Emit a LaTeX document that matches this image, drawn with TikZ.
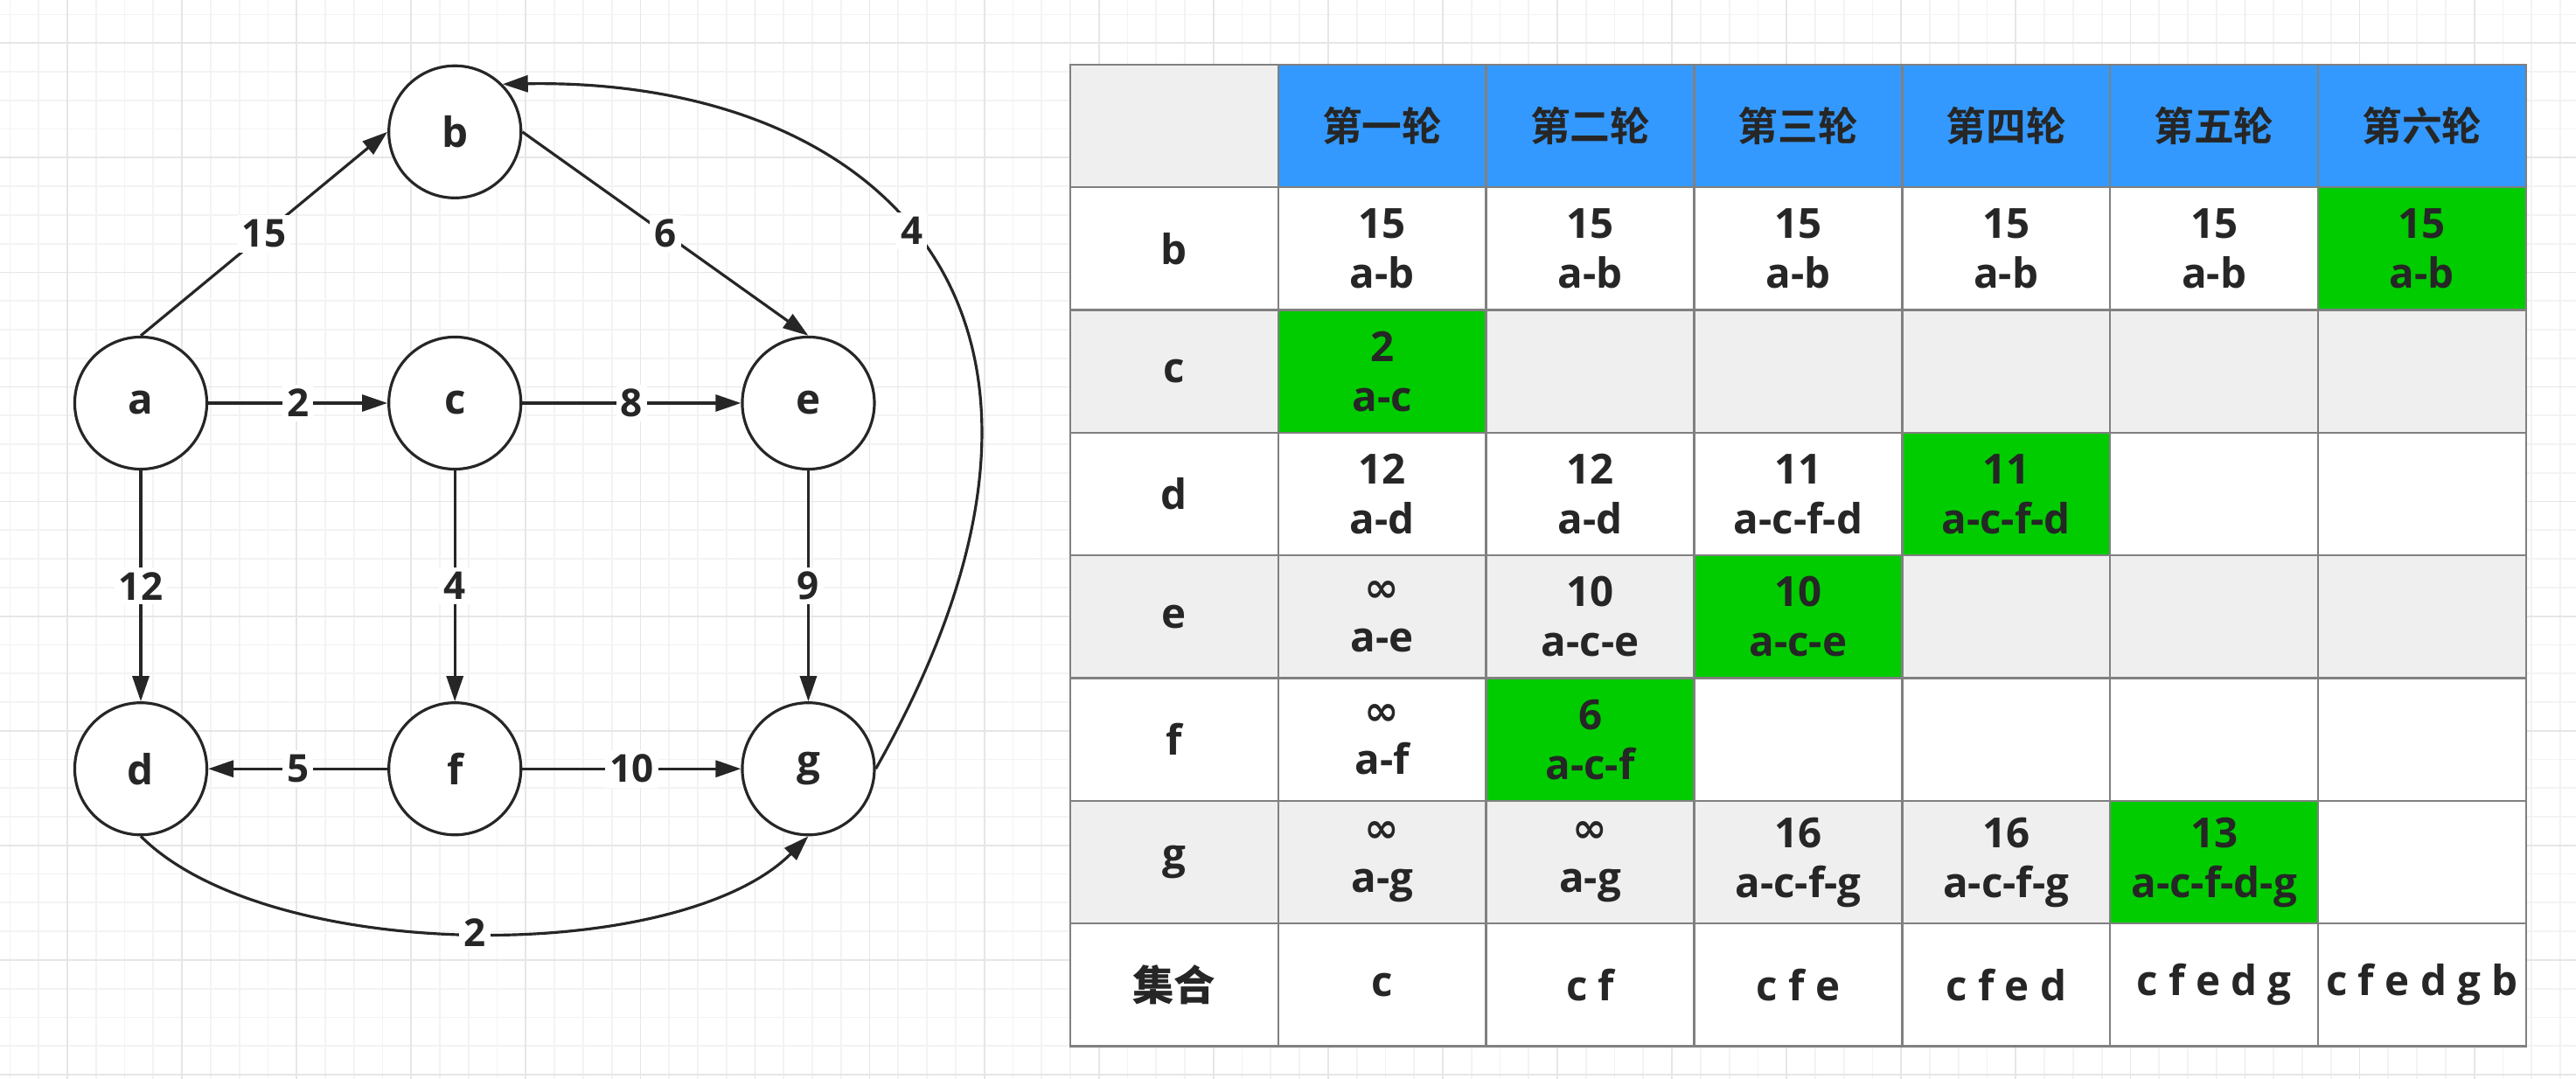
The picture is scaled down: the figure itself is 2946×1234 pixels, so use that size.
\documentclass[tikz,border=0pt]{standalone}
\usepackage{fontspec}
\setmainfont{Open Sans}
\newfontfamily\cjk{Noto Sans CJK SC Bold}
\newfontfamily\symf{DejaVu Sans}
\usetikzlibrary{arrows.meta}
\definecolor{ink}{HTML}{262626}
\definecolor{headblue}{HTML}{3399FF}
\definecolor{hitgreen}{HTML}{00CC00}
\definecolor{rowgray}{HTML}{EFEFEF}
\definecolor{cellline}{HTML}{808080}
\definecolor{gridminor}{HTML}{F3F3F3}
\definecolor{gridmajor}{HTML}{E6E6E6}
\tikzstyle{vertex} = [circle, draw=ink, line width=0.9pt, fill=white, minimum size=1.51cm, inner sep=0pt, text=ink, font=\bfseries\fontsize{13.5}{16}\selectfont]
\tikzstyle{weight} = [fill=white, inner sep=1.5pt, text=ink, font=\bfseries\fontsize{12.5}{14}\selectfont]
\tikzstyle{link} = [->, draw=ink, line width=0.9pt]
\tikzstyle{cell} = [rectangle, draw=cellline, line width=0.7pt, fill=white, minimum width=2.377cm, minimum height=1.4025cm, inner sep=0pt, align=center, text=ink, font=\bfseries\fontsize{13.5}{16.2}\selectfont]
\tikzstyle{headcell} = [fill=headblue, font=\cjk\fontsize{13}{16}\selectfont]
\tikzstyle{graycell} = [fill=rowgray]
\tikzstyle{greencell} = [fill=hitgreen]
\begin{document}
\begin{tikzpicture}[x=0.01cm, y=0.01cm, node distance=2.377cm, >={Triangle[length=2.9mm,width=1.9mm]}]
   % paper with grid
   \useasboundingbox (0,0) rectangle (2946,1234);
   \fill[white] (0,0) rectangle (2946,1234);
   \draw[gridminor, line width=0.5pt, step=0.3275cm, shift={(11.5,5)}] (-11.5,-5) grid (2934.5,1229);
   \draw[gridmajor, line width=0.5pt, step=1.31cm, shift={(77,5)}] (-77,-5) grid (2869,1229);

   % graph
   \node[vertex] (a) at (161,773) {a};
   \node[vertex, node distance=3.59cm] (c) [right of=a] {c};
   \node[vertex, node distance=4.04cm] (e) [right of=c] {e};
   \node[vertex, node distance=3.10cm] (b) [above of=c] {b};
   \node[vertex, node distance=4.18cm] (d) [below of=a] {d};
   \node[vertex, node distance=3.59cm] (f) [right of=d] {f};
   \node[vertex, node distance=4.04cm] (g) [right of=f] {g};
   \draw[link] (a.north) -- node[weight] {15} (b.west);
   \draw[link] (b.east) -- node[weight] {6} (e.north);
   \draw[link] (a) -- node[weight] {2} (c);
   \draw[link] (c) -- node[weight] {8} (e);
   \draw[link] (a) -- node[weight] {12} (d);
   \draw[link] (c) -- node[weight] {4} (f);
   \draw[link] (e) -- node[weight] {9} (g);
   \draw[link] (f) -- node[weight] {5} (d);
   \draw[link] (f) -- node[weight] {10} (g);
   \draw[link] (d.south) to[out=-45, in=-135, looseness=0.7] node[weight] {2} (g.south);
   \draw[link] (g.east) .. controls (1301,883) and (1000,1145) .. node[weight, pos=0.53] {4} (b.north east);

   % table
   \node[cell, graycell] (h0) at (1342.9,1089.9) {};
   \node[cell, headcell] (h1) [right of=h0] {第一轮};
   \node[cell, headcell] (h2) [right of=h1] {第二轮};
   \node[cell, headcell] (h3) [right of=h2] {第三轮};
   \node[cell, headcell] (h4) [right of=h3] {第四轮};
   \node[cell, headcell] (h5) [right of=h4] {第五轮};
   \node[cell, headcell] (h6) [right of=h5] {第六轮};

   \node[cell, node distance=1.4025cm] (b0) [below of=h0] {b};
   \node[cell] (b1) [right of=b0] {15\\a-b};
   \node[cell] (b2) [right of=b1] {15\\a-b};
   \node[cell] (b3) [right of=b2] {15\\a-b};
   \node[cell] (b4) [right of=b3] {15\\a-b};
   \node[cell] (b5) [right of=b4] {15\\a-b};
   \node[cell, greencell] (b6) [right of=b5] {15\\a-b};

   \node[cell, graycell, node distance=1.4025cm] (c0) [below of=b0] {c};
   \node[cell, greencell] (c1) [right of=c0] {2\\a-c};
   \node[cell, graycell] (c2) [right of=c1] {};
   \node[cell, graycell] (c3) [right of=c2] {};
   \node[cell, graycell] (c4) [right of=c3] {};
   \node[cell, graycell] (c5) [right of=c4] {};
   \node[cell, graycell] (c6) [right of=c5] {};

   \node[cell, node distance=1.4025cm] (d0) [below of=c0] {d};
   \node[cell] (d1) [right of=d0] {12\\a-d};
   \node[cell] (d2) [right of=d1] {12\\a-d};
   \node[cell] (d3) [right of=d2] {11\\a-c-f-d};
   \node[cell, greencell] (d4) [right of=d3] {11\\a-c-f-d};
   \node[cell] (d5) [right of=d4] {};
   \node[cell] (d6) [right of=d5] {};

   \node[cell, graycell, node distance=1.4025cm] (e0) [below of=d0] {e};
   \node[cell, graycell] (e1) [right of=e0] {{\symf ∞}\\a-e};
   \node[cell, graycell] (e2) [right of=e1] {10\\a-c-e};
   \node[cell, greencell] (e3) [right of=e2] {10\\a-c-e};
   \node[cell, graycell] (e4) [right of=e3] {};
   \node[cell, graycell] (e5) [right of=e4] {};
   \node[cell, graycell] (e6) [right of=e5] {};

   \node[cell, node distance=1.4025cm] (f0) [below of=e0] {f};
   \node[cell] (f1) [right of=f0] {{\symf ∞}\\a-f};
   \node[cell, greencell] (f2) [right of=f1] {6\\a-c-f};
   \node[cell] (f3) [right of=f2] {};
   \node[cell] (f4) [right of=f3] {};
   \node[cell] (f5) [right of=f4] {};
   \node[cell] (f6) [right of=f5] {};

   \node[cell, graycell, node distance=1.4025cm] (g0) [below of=f0] {g};
   \node[cell, graycell] (g1) [right of=g0] {{\symf ∞}\\a-g};
   \node[cell, graycell] (g2) [right of=g1] {{\symf ∞}\\a-g};
   \node[cell, graycell] (g3) [right of=g2] {16\\a-c-f-g};
   \node[cell, graycell] (g4) [right of=g3] {16\\a-c-f-g};
   \node[cell, greencell] (g5) [right of=g4] {13\\a-c-f-d-g};
   \node[cell] (g6) [right of=g5] {};

   \node[cell, node distance=1.4025cm] (s0) [below of=g0] {{\cjk 集合}};
   \node[cell] (s1) [right of=s0] {c};
   \node[cell] (s2) [right of=s1] {c f};
   \node[cell] (s3) [right of=s2] {c f e};
   \node[cell] (s4) [right of=s3] {c f e d};
   \node[cell] (s5) [right of=s4] {c f e d g};
   \node[cell] (s6) [right of=s5] {c f e d g b};
  \end{tikzpicture}
\end{document}
